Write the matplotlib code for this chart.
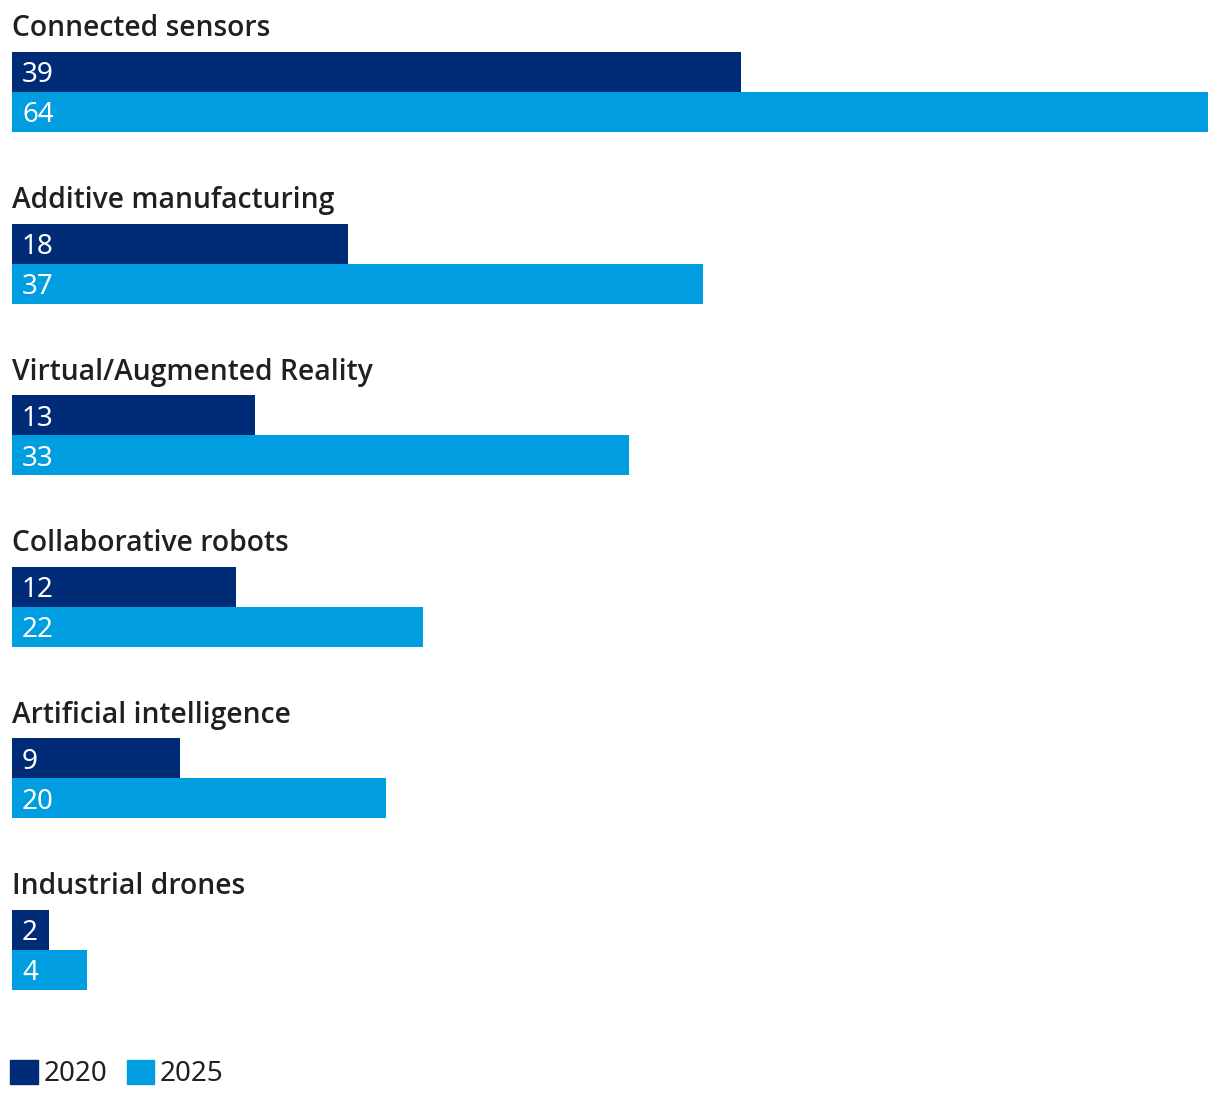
import matplotlib.pyplot as plt
from matplotlib.patches import Patch

plt.rcParams['font.family'] = ['Noto Sans', 'DejaVu Sans']

categories = ['Connected sensors', 'Additive manufacturing', 'Virtual/Augmented Reality',
              'Collaborative robots', 'Artificial intelligence', 'Industrial drones']
values_2020 = [39, 18, 13, 12, 9, 2]
values_2025 = [64, 37, 33, 22, 20, 4]
series_names = ['2020', '2025']

dark = '#002c77'
light = '#009de0'
text_col = '#231f20'

W, H = 1220, 1106
fig = plt.figure(figsize=(W / 100, H / 100), dpi=100)
# axes spans bars horizontally (x 12..1208 px), full height in pixel units
ax = fig.add_axes([12 / W, 0, 1196 / W, 1])
ax.set_xlim(0, 64)
ax.set_ylim(H, 0)
ax.axis('off')

pitch = 171.6
first_top = 52
bar_h = 40

for i, cat in enumerate(categories):
    top = first_top + i * pitch
    y1 = top + bar_h / 2
    y2 = top + bar_h * 1.5
    ax.barh(y1, values_2020[i], height=bar_h, color=dark, align='center')
    ax.barh(y2, values_2025[i], height=bar_h, color=light, align='center')
    ax.text(0, top - 23, cat, fontsize=20.3, fontweight='semibold', color=text_col,
            family=['Open Sans', 'Noto Sans'], ha='left', va='center')
    ax.annotate(str(values_2020[i]), (0, y1), xytext=(7.2, -2.5), textcoords='offset points',
                color='white', fontsize=20, ha='left', va='center')
    ax.annotate(str(values_2025[i]), (0, y2), xytext=(7.2, -2.5), textcoords='offset points',
                color='white', fontsize=20, ha='left', va='center')

handles = [Patch(color=dark), Patch(color=light)]
fig.legend(handles, series_names, loc='center left', bbox_to_anchor=(10 / W, 1 - 1074 / H),
           frameon=False, fontsize=20, handlelength=1.0, handleheight=1.0,
           handletextpad=0.2, columnspacing=0.7, ncol=2, labelcolor=text_col,
           borderpad=0, borderaxespad=0)

fig.savefig('out.png', dpi=100)
